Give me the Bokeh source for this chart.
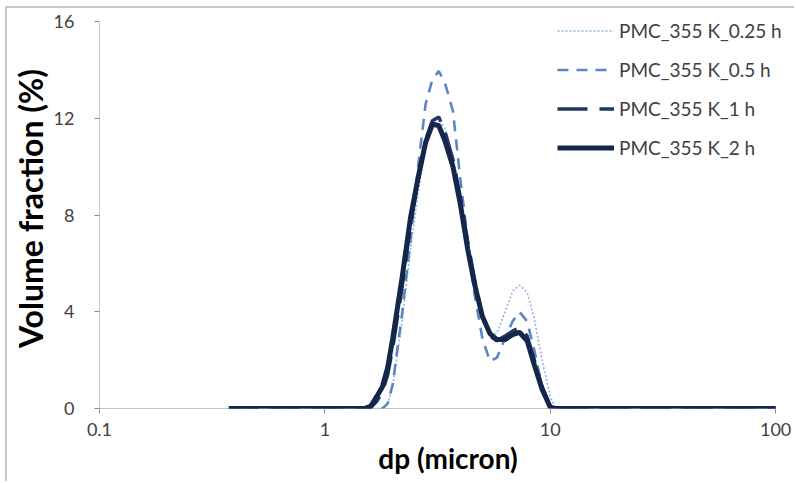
from bokeh.plotting import figure
from bokeh.models import Legend, LegendItem, FixedTicker
from bokeh.embed import file_html
from bokeh.resources import INLINE

# ---- data ----
dp = [0.375, 1.0, 1.5, 1.6, 1.7, 1.8, 1.9, 2.0, 2.2, 2.4, 2.6, 2.8, 3.0, 3.2, 3.4,
      3.7, 4.0, 4.3, 4.6, 5.0, 5.4, 5.8, 6.3, 6.8, 7.3, 7.9, 8.5, 9.2, 10.0, 10.5,
      11.0, 20.0, 100.0]

vf_025h = [0, 0, 0, 0, 0, 0, 0.2, 0.9, 3.6, 6.6, 9.0, 10.8, 11.8, 12.0, 11.6,
           10.4, 8.7, 6.9, 5.3, 3.9, 3.1, 3.1, 4.0, 4.85, 5.1, 4.8, 3.7, 2.0, 0.5, 0.05,
           0, 0, 0]
vf_05h = [0, 0, 0, 0, 0, 0, 0.2, 1.0, 3.9, 7.0, 10.1, 12.6, 13.6, 13.95, 13.5,
          12.3, 9.4, 7.0, 4.8, 2.9, 1.95, 2.1, 2.9, 3.6, 4.0, 3.6, 2.4, 0.9, 0.1, 0,
          0, 0, 0]
vf_1h = [0, 0, 0, 0.05, 0.3, 0.7, 1.4, 2.5, 5.0, 7.6, 9.5, 11.1, 11.9, 12.05, 11.5,
         10.3, 8.7, 6.9, 5.4, 3.8, 3.0, 2.8, 3.0, 3.2, 3.35, 3.0, 2.0, 0.9, 0.1, 0,
         0, 0, 0]
vf_2h = [0, 0, 0, 0.1, 0.5, 0.9, 1.7, 2.9, 5.4, 7.9, 9.6, 11.0, 11.75, 11.7, 11.1,
         10.0, 8.4, 6.6, 5.2, 3.8, 3.1, 2.85, 2.85, 3.05, 3.15, 2.8, 1.8, 0.8, 0.05, 0,
         0, 0, 0]

series_labels = ["PMC_355 K_0.25 h", "PMC_355 K_0.5 h", "PMC_355 K_1 h", "PMC_355 K_2 h"]
x_ticks = [0.1, 1, 10, 100]
y_ticks = [0, 4, 8, 12, 16]

FONT = "Lato"

# layout geometry (pixels): axis spans 680 px for 3 decades / 387 px for 16 units;
# the frame is extended to the figure's right/top edges so the legend is not clipped
AX_W, FRAME_W = 680.0, 701.0
AX_H, FRAME_H = 387.0, 400.0
x_lo, x_hi = x_ticks[0], x_ticks[-1]
y_lo, y_hi = y_ticks[0], y_ticks[-1]
x_max = x_lo * (x_hi / x_lo) ** (FRAME_W / AX_W)
y_max = y_lo + (y_hi - y_lo) * FRAME_H / AX_H

p = figure(width=789, height=475, x_axis_type="log",
           x_range=(x_lo, x_max), y_range=(y_lo, y_max),
           output_backend="svg", toolbar_location=None,
           min_border_left=88, min_border_right=0, min_border_top=0, min_border_bottom=75)
p.styles = {"margin-left": "5px", "margin-top": "6px",
            "border-left": "2px solid #c6c6c6", "border-top": "2px solid #c6c6c6"}
p.outline_line_color = None
p.xgrid.visible = False
p.ygrid.visible = False
p.background_fill_color = "white"
p.border_fill_color = "white"

# axis lines limited to the tick span (0.1-100, 0-16)
p.segment(x0=[x_lo, x_lo], y0=[y_lo, y_lo], x1=[x_hi, x_lo], y1=[y_lo, y_hi],
          line_color="#8c8c8c", line_width=1)

r1 = p.line(dp, vf_025h, line_color="#8fb3e0", line_width=1.6, line_dash="2 2")
r2 = p.line(dp, vf_05h, line_color="#5a86c2", line_width=2.6, line_dash="11 8")
r3 = p.line(dp, vf_1h, line_color="#1f3864", line_width=3.5, line_dash="30 12")
r4 = p.line(dp, vf_2h, line_color="#14264a", line_width=5)

for ax in (p.xaxis[0], p.yaxis[0]):
    ax.axis_line_color = None
    ax.major_tick_line_color = "#8c8c8c"
    ax.minor_tick_line_color = None
    ax.major_tick_in = 0
    ax.major_tick_out = 5
    ax.major_label_text_font = FONT
    ax.major_label_text_font_size = "18px"
    ax.major_label_text_color = "#404040"
    ax.axis_label_text_font = FONT
    ax.axis_label_text_font_style = "bold"
    ax.axis_label_text_color = "black"

p.xaxis.ticker = FixedTicker(ticks=x_ticks)
p.xaxis.major_label_overrides = {0.1: "0.1", 1: "1", 10: "10", 100: "100"}
p.yaxis.ticker = FixedTicker(ticks=y_ticks)
p.xaxis.axis_label = "dp (micron)"
p.yaxis.axis_label = "Volume fraction (%)"
p.xaxis.axis_label_text_font_size = "28px"
p.yaxis.axis_label_text_font_size = "32px"
p.xaxis.major_label_standoff = 9
p.xaxis.axis_label_standoff = 2
p.yaxis.major_label_standoff = 20
p.yaxis.axis_label_standoff = 1

legend = Legend(items=[LegendItem(label=series_labels[0], renderers=[r1]),
                       LegendItem(label=series_labels[1], renderers=[r2]),
                       LegendItem(label=series_labels[2], renderers=[r3]),
                       LegendItem(label=series_labels[3], renderers=[r4])],
                location=(458, 249), padding=0, margin=0, spacing=16,
                glyph_width=57, glyph_height=23, label_height=23, label_standoff=5,
                border_line_color=None, background_fill_alpha=0,
                label_text_font=FONT, label_text_font_size="19px",
                label_text_color="#404040")
p.add_layout(legend, "center")

open("out.html", "w").write(file_html(p, INLINE))
